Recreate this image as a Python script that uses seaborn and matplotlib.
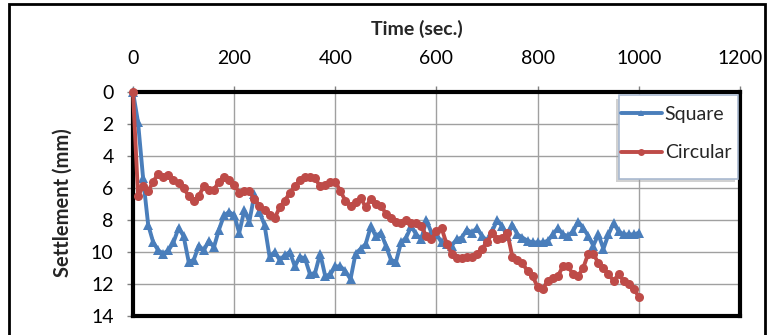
import matplotlib
matplotlib.use("Agg")
import matplotlib.pyplot as plt
from matplotlib.patches import Rectangle
import numpy as np
import pandas as pd
import seaborn as sns

# Settlement readings every 10 s
time_sec = list(range(0, 1001, 10))
square = [
    0.0, 1.9, 5.4, 8.3, 9.4, 9.9, 10.1, 9.9, 9.4, 8.5,
    9.0, 10.6, 10.5, 9.6, 9.9, 9.3, 9.7, 8.6, 7.7, 7.5,
    7.7, 8.8, 7.4, 8.1, 6.4, 7.5, 8.3, 10.3, 10.0, 10.5,
    10.2, 10.0, 10.9, 10.3, 10.4, 11.4, 11.3, 10.1, 11.5, 11.4,
    10.9, 10.9, 11.2, 11.7, 10.1, 9.8, 9.5, 8.4, 9.0, 8.8,
    9.6, 10.5, 10.6, 9.4, 9.1, 8.4, 8.9, 9.2, 8.0, 8.8,
    8.9, 9.4, 9.5, 9.6, 9.2, 9.1, 8.6, 8.8, 8.5, 9.0,
    9.3, 8.7, 8.0, 8.4, 9.0, 8.3, 8.9, 9.1, 9.3, 9.4,
    9.4, 9.4, 9.3, 8.9, 8.5, 8.9, 9.0, 8.7, 8.1, 8.5,
    9.0, 9.6, 8.9, 9.8, 8.9, 8.2, 8.7, 8.9, 8.9, 8.9,
    8.8,
]
circular = [
    0.0, 6.5, 5.9, 6.2, 5.6, 5.1, 5.3, 5.2, 5.5, 5.7,
    6.0, 6.5, 6.8, 6.5, 5.9, 6.1, 6.1, 5.6, 5.3, 5.5,
    5.8, 6.3, 6.2, 6.2, 6.7, 7.1, 7.4, 7.7, 7.9, 7.2,
    6.8, 6.3, 5.9, 5.5, 5.3, 5.3, 5.4, 5.9, 5.8, 5.6,
    5.6, 6.2, 6.8, 7.1, 6.9, 6.6, 7.2, 6.7, 7.0, 7.1,
    7.6, 7.9, 8.1, 8.2, 8.0, 8.2, 8.2, 8.4, 9.0, 9.2,
    8.7, 8.5, 9.5, 10.1, 10.4, 10.4, 10.3, 10.3, 10.1, 9.8,
    9.4, 8.8, 9.2, 9.1, 8.8, 10.3, 10.5, 10.7, 11.2, 11.5,
    12.2, 12.3, 11.8, 11.6, 11.5, 10.9, 10.9, 11.4, 11.5, 11.0,
    10.1, 10.1, 10.7, 11.0, 11.4, 11.8, 11.4, 11.8, 12.0, 12.3,
    12.8,
]
series_names = ["Square", "Circular"]
x_ticks = [0, 200, 400, 600, 800, 1000, 1200]
y_ticks = [0, 2, 4, 6, 8, 10, 12, 14]

df = pd.DataFrame({
    "Time": time_sec * 2,
    "Settlement": square + circular,
    "Shape": ["Square"] * len(square) + ["Circular"] * len(circular),
})

sns.set_style("white")
plt.rcParams["font.family"] = ["Lato", "DejaVu Sans"]

W, H = 772, 335
fig = plt.figure(figsize=(W / 100, H / 100), dpi=100)

def fx(px):
    return px / W

def fy(py):
    return 1 - py / H

ax = fig.add_axes([fx(133), fy(316), fx(740) - fx(133), fy(92) - fy(316)])

sns.lineplot(
    data=df, x="Time", y="Settlement", hue="Shape", style="Shape",
    hue_order=series_names, style_order=series_names,
    palette={"Square": "#4A7EBB", "Circular": "#BE4B48"},
    markers={"Square": "^", "Circular": "o"}, dashes=False,
    linewidth=2.8, markersize=6.5, markeredgewidth=0,
    estimator=None, sort=False, ax=ax, legend=True, zorder=5,
)
for ln in ax.lines:
    ln.set_clip_on(False)

ax.set_xlim(0, 1200)
ax.set_ylim(14, 0)
ax.set_xticks(x_ticks)
ax.set_yticks(y_ticks)
ax.xaxis.tick_top()
ax.set_xlabel("")
ax.set_ylabel("")
ax.grid(True, color="#a0a0a0", linewidth=1.0)
ax.set_axisbelow(True)
ax.tick_params(axis="x", which="major", top=True, bottom=False, direction="out",
               length=4, width=1, color="#808080", pad=14, labelsize=14,
               labelcolor="black")
ax.tick_params(axis="y", which="major", left=True, direction="out",
               length=4, width=1, color="#808080", pad=10, labelsize=14,
               labelcolor="black")
for side in ["top", "bottom", "left", "right"]:
    ax.spines[side].set_visible(True)
    ax.spines[side].set_color("black")
    ax.spines[side].set_linewidth(3.0)

fig.text(fx(417), fy(29), "Time (sec.)", ha="center", va="center",
         fontsize=14, fontweight="bold")
fig.text(fx(63), fy(203), "Settlement (mm)", ha="center", va="center",
         rotation=90, fontsize=14.5, fontweight="bold")

# legend box with a soft shadow
fig.patches.append(Rectangle((fx(616), fy(182)), fx(119), fy(95) - fy(178),
                             transform=fig.transFigure, facecolor="#9a9a9a",
                             alpha=0.45, edgecolor="none", zorder=6))
fig.patches.append(Rectangle((fx(619), fy(179)), fx(119), fy(95) - fy(179),
                             transform=fig.transFigure, facecolor="white",
                             edgecolor="#a9b9d0", linewidth=1.2, zorder=7))

handles, labels = ax.get_legend_handles_labels()
ax.get_legend().remove()
leg = fig.legend(handles, labels, loc="upper left",
                 bbox_to_anchor=(fx(621), fy(106)), bbox_transform=fig.transFigure,
                 frameon=False, fontsize=14, borderpad=0, borderaxespad=0,
                 handlelength=2.1, handletextpad=0.15, labelspacing=1.1,
                 numpoints=1)
leg.set_zorder(8)
for h in leg.legend_handles:
    h.set_markersize(5)

# outer chart border
fig.patches.append(Rectangle((fx(9), -0.1), fx(756), fy(4) + 0.1,
                             transform=fig.transFigure, fill=False,
                             edgecolor="black", linewidth=2, zorder=10))

fig.savefig("out.png", dpi=100)
